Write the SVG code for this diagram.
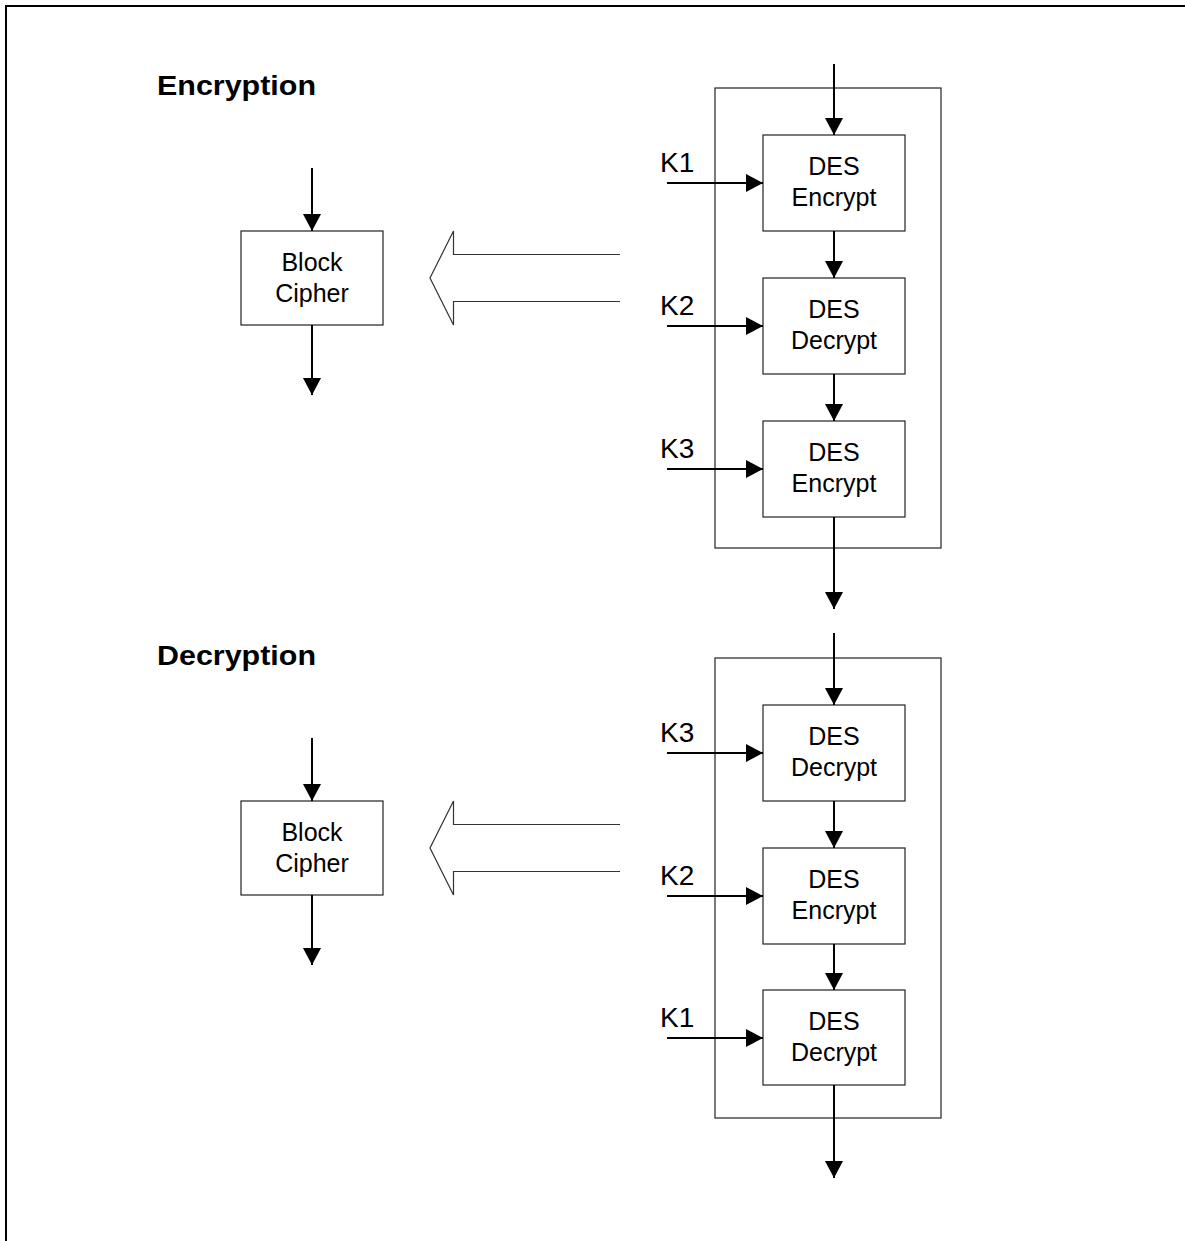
<svg xmlns="http://www.w3.org/2000/svg" width="1185" height="1241" viewBox="0 0 1185 1241">
<defs>
<marker id="ah" markerWidth="17" markerHeight="18" refX="17" refY="9" orient="auto" markerUnits="userSpaceOnUse"><path d="M0,0 L17,9 L0,18 z" fill="#000"/></marker>
<style>
.t{font-family:"Liberation Sans",Arial,sans-serif;fill:#000}
.lbl{font-size:25px;text-anchor:middle}
.key{font-size:28px}
.ttl{font-size:28px;font-weight:bold}
.box{fill:#fff;stroke:#222;stroke-width:1.2}
.frame{fill:none;stroke:#222;stroke-width:1.2}
.arr{stroke:#000;stroke-width:2;fill:none;marker-end:url(#ah)}
.hollow{fill:none;stroke:#333;stroke-width:1.2}
</style>
</defs>
<rect x="0" y="0" width="1185" height="1241" fill="#fff"/>
<rect id="border" x="6" y="6" width="1300" height="1300" fill="none" stroke="#000" stroke-width="2"/>

<g id="encryption">
<text id="enc-title" class="t ttl" x="157" y="95" textLength="159" lengthAdjust="spacingAndGlyphs">Encryption</text>
<rect id="enc-frame" class="frame" x="715" y="88" width="226" height="460"/>
<g id="enc-block"><rect class="box" x="241" y="231" width="142" height="94"/><text class="t lbl" x="312" y="271">Block</text><text class="t lbl" x="312" y="302">Cipher</text></g>
<g id="enc-des1"><rect class="box" x="763" y="135" width="142" height="96"/><text class="t lbl" x="834" y="175">DES</text><text class="t lbl" x="834" y="206">Encrypt</text></g>
<g id="enc-des2"><rect class="box" x="763" y="278" width="142" height="96"/><text class="t lbl" x="834" y="318">DES</text><text class="t lbl" x="834" y="349">Decrypt</text></g>
<g id="enc-des3"><rect class="box" x="763" y="421" width="142" height="96"/><text class="t lbl" x="834" y="461">DES</text><text class="t lbl" x="834" y="492">Encrypt</text></g>
<text class="t key" x="660" y="172">K1</text>
<text class="t key" x="660" y="315">K2</text>
<text class="t key" x="660" y="458">K3</text>
</g>

<g id="decryption">
<text id="dec-title" class="t ttl" x="157" y="665" textLength="159" lengthAdjust="spacingAndGlyphs">Decryption</text>
<rect id="dec-frame" class="frame" x="715" y="658" width="226" height="460"/>
<g id="dec-block"><rect class="box" x="241" y="801" width="142" height="94"/><text class="t lbl" x="312" y="841">Block</text><text class="t lbl" x="312" y="872">Cipher</text></g>
<g id="dec-des1"><rect class="box" x="763" y="705" width="142" height="96"/><text class="t lbl" x="834" y="745">DES</text><text class="t lbl" x="834" y="776">Decrypt</text></g>
<g id="dec-des2"><rect class="box" x="763" y="848" width="142" height="96"/><text class="t lbl" x="834" y="888">DES</text><text class="t lbl" x="834" y="919">Encrypt</text></g>
<g id="dec-des3"><rect class="box" x="763" y="990" width="142" height="95"/><text class="t lbl" x="834" y="1030">DES</text><text class="t lbl" x="834" y="1061">Decrypt</text></g>
<text class="t key" x="660" y="742">K3</text>
<text class="t key" x="660" y="885">K2</text>
<text class="t key" x="660" y="1027">K1</text>
</g>

<g id="connectors">
<line class="arr" x1="312" y1="168" x2="312" y2="231"/>
<line class="arr" x1="312" y1="325" x2="312" y2="395"/>
<polyline class="hollow" points="620,254.5 453.5,254.5 453.5,231 430,278 453.5,325 453.5,301.5 620,301.5"/>
<line class="arr" x1="834" y1="64" x2="834" y2="135"/>
<line class="arr" x1="834" y1="231" x2="834" y2="278"/>
<line class="arr" x1="834" y1="374" x2="834" y2="421"/>
<line class="arr" x1="834" y1="517" x2="834" y2="609"/>
<line class="arr" x1="667" y1="183" x2="763" y2="183"/>
<line class="arr" x1="667" y1="326" x2="763" y2="326"/>
<line class="arr" x1="667" y1="469" x2="763" y2="469"/>

<line class="arr" x1="312" y1="738" x2="312" y2="801"/>
<line class="arr" x1="312" y1="895" x2="312" y2="965"/>
<polyline class="hollow" points="620,824.5 453.5,824.5 453.5,801 430,848 453.5,895 453.5,871.5 620,871.5"/>
<line class="arr" x1="834" y1="633" x2="834" y2="705"/>
<line class="arr" x1="834" y1="801" x2="834" y2="848"/>
<line class="arr" x1="834" y1="944" x2="834" y2="990"/>
<line class="arr" x1="834" y1="1085" x2="834" y2="1178"/>
<line class="arr" x1="667" y1="753" x2="763" y2="753"/>
<line class="arr" x1="667" y1="896" x2="763" y2="896"/>
<line class="arr" x1="667" y1="1038" x2="763" y2="1038"/>
</g>
</svg>
